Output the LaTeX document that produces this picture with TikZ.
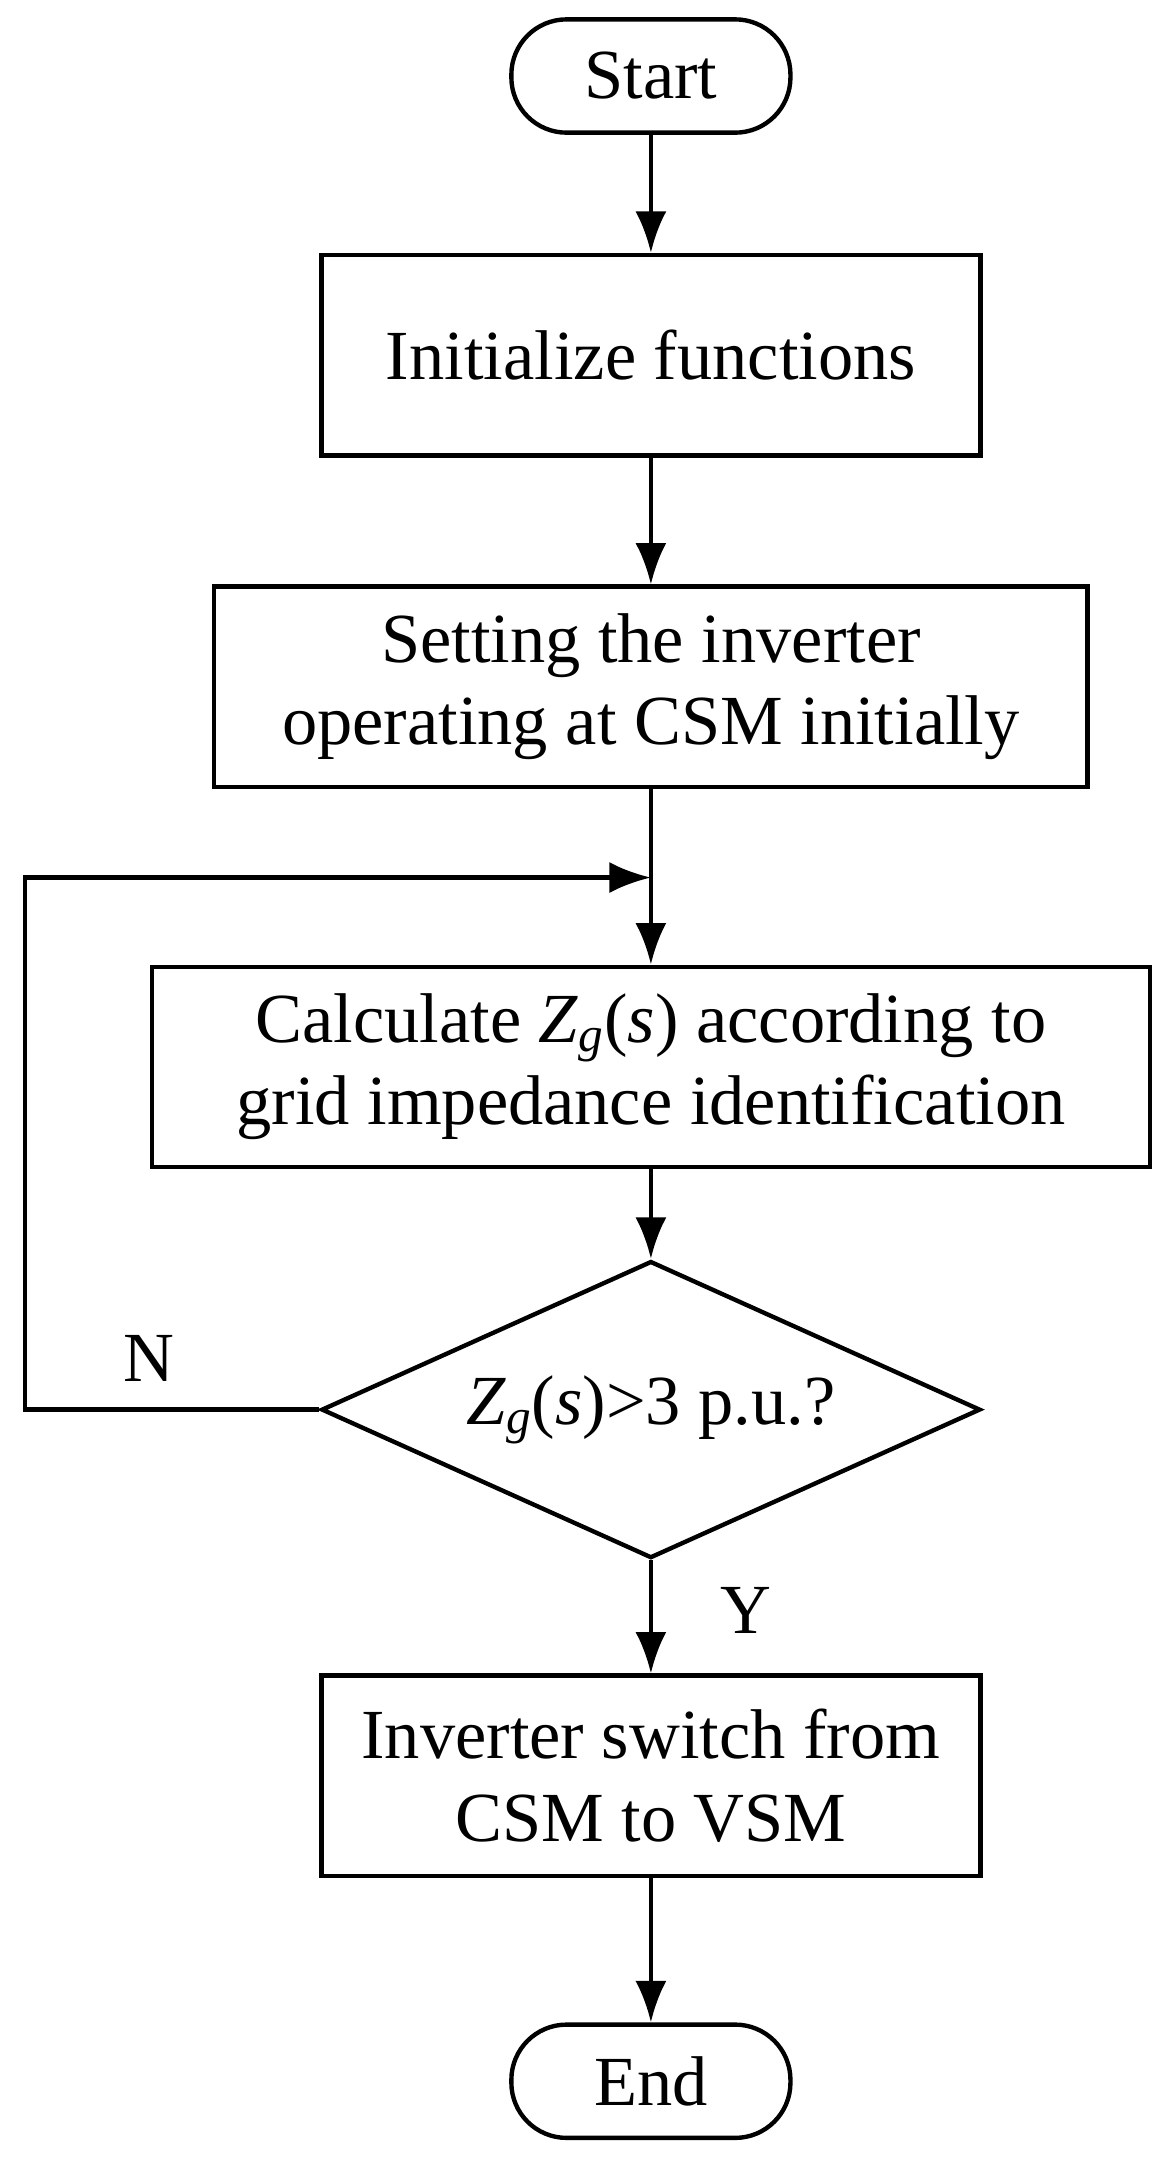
\documentclass[tikz,border=0pt]{standalone}
\usepackage{fontspec}
\setmainfont{Liberation Serif}
\usetikzlibrary{shapes.geometric, arrows.meta}
\newcommand{\zgs}{\textit{Z}\textsubscript{\textit{g}}(\textit{s})}
\tikzset{
    proc/.style={draw, rectangle, line width=1.8pt, minimum height=2.9cm, align=center, inner sep=0pt},
    term/.style={draw, rectangle, rounded corners=0.8cm, line width=1.8pt, minimum width=4.04cm, minimum height=1.64cm},
    test/.style={draw, diamond, aspect=2.22, line width=1.8pt, minimum width=9.54cm, minimum height=4.3cm, inner sep=0pt},
    flow/.style={-{Latex[length=0.6cm, width=0.45cm]}, line width=1.8pt},
    lbl/.style={} }
\begin{document}
\begin{tikzpicture}[x=0.02cm, y=-0.02cm, font=\fontsize{29}{34}\selectfont]
    \useasboundingbox (0,0) rectangle (850,1563);
    \node[term] (start) at (471,55) {Start};
    \node[proc, minimum width=9.54cm] (init) at (471,257) {Initialize functions};
    \node[proc, minimum width=12.64cm] (set) at (471,497) {Setting the inverter\\operating at CSM initially};
    \node[proc, minimum width=14.44cm] (calc) at (471,772) {Calculate \zgs{} according to\\grid impedance identification};
    \node[test] (zg) at (471,1020) {\zgs>3 p.u.?};
    \node[proc, minimum width=9.54cm] (sw) at (471,1285) {Inverter switch from\\CSM to VSM};
    \node[term] (end) at (471,1506) {End};
    \coordinate (cl) at (18,1020);
    \coordinate (ct) at (18,635);
    \coordinate (cj) at (471,635);
    \node[lbl] (n) at (108,983) {N};
    \node[lbl] (y) at (540,1165) {Y};
    % ----
    \draw[flow] (start) -- (init);
    \draw[flow] (init) -- (set);
    \draw[flow] (set) -- (calc);
    \draw[flow] (calc) -- (zg);
    \draw[flow] (zg) -- (sw);
    \draw[flow] (sw) -- (end);
    \draw[flow] (zg.west) -- (cl) -- (ct) -- (cj);
\end{tikzpicture}
\end{document}
